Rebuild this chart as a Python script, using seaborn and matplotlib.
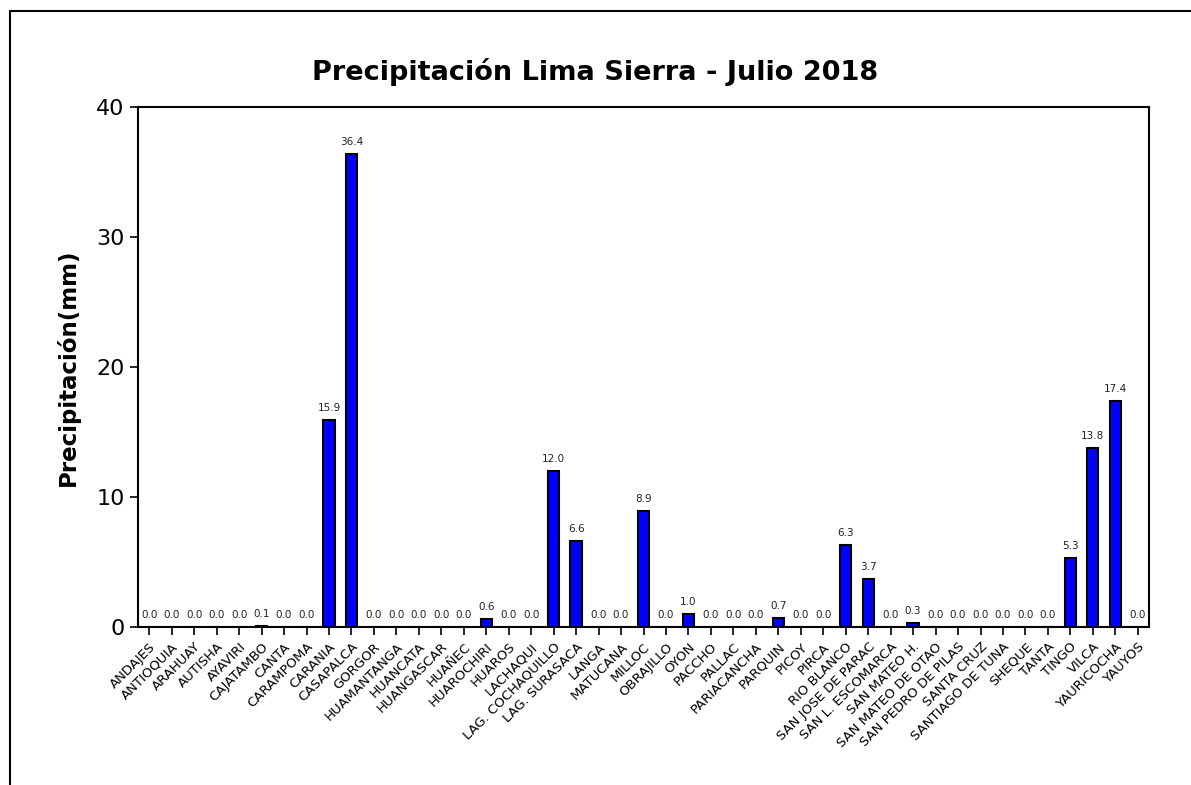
import pandas as pd
import seaborn as sns
import matplotlib.pyplot as plt
from matplotlib.lines import Line2D

# station names and July 2018 precipitation (mm)
estaciones = ['ANDAJES', 'ANTIOQUIA', 'ARAHUAY', 'AUTISHA', 'AYAVIRI', 'CAJATAMBO',
              'CANTA', 'CARAMPOMA', 'CARANIA', 'CASAPALCA', 'GORGOR', 'HUAMANTANGA',
              'HUANCATA', 'HUANGASCAR', 'HUAÑEC', 'HUAROCHIRI', 'HUAROS', 'LACHAQUI',
              'LAG. COCHAQUILLO', 'LAG. SURASACA', 'LANGA', 'MATUCANA', 'MILLOC',
              'OBRAJILLO', 'OYON', 'PACCHO', 'PALLAC', 'PARIACANCHA', 'PARQUIN',
              'PICOY', 'PIRCA', 'RIO BLANCO', 'SAN JOSE DE PARAC', 'SAN L. ESCOMARCA',
              'SAN MATEO H.', 'SAN MATEO DE OTAO', 'SAN PEDRO DE PILAS', 'SANTA CRUZ',
              'SANTIAGO DE TUNA', 'SHEQUE', 'TANTA', 'TINGO', 'VILCA', 'YAURICOCHA',
              'YAUYOS']
precip = [0.0, 0.0, 0.0, 0.0, 0.0, 0.1,
          0.0, 0.0, 15.9, 36.4, 0.0, 0.0,
          0.0, 0.0, 0.0, 0.6, 0.0, 0.0,
          12.0, 6.6, 0.0, 0.0, 8.9,
          0.0, 1.0, 0.0, 0.0, 0.0, 0.7,
          0.0, 0.0, 6.3, 3.7, 0.0,
          0.3, 0.0, 0.0, 0.0,
          0.0, 0.0, 0.0, 5.3, 13.8, 17.4,
          0.0]

df = pd.DataFrame({'estacion': estaciones, 'pp': precip})

sns.set_style('ticks')
plt.rcParams['font.family'] = ['DejaVu Sans']
plt.rcParams['text.color'] = 'black'
plt.rcParams['axes.labelcolor'] = 'black'
plt.rcParams['xtick.color'] = 'black'
plt.rcParams['ytick.color'] = 'black'
plt.rcParams['axes.edgecolor'] = 'black'

fig = plt.figure(figsize=(11.91, 7.85), dpi=100)
ax = fig.add_axes([138/1191, 1 - 627/785, (1149-138)/1191, (627-107)/785])

sns.barplot(x='estacion', y='pp', data=df, color='#0000FF', edgecolor='black',
            linewidth=1.5, width=0.5, saturation=1, ax=ax)
ax.bar_label(ax.containers[0], fmt='%.1f', fontsize=7.5, padding=5, color='#222222')

ax.set_ylim(0, 40)
ax.set_yticks([0, 10, 20, 30, 40])
ax.set_xlim(-0.5, len(estaciones) - 0.5)
ax.tick_params(axis='y', labelsize=16, length=6, width=1.2)
ax.tick_params(axis='x', labelsize=9.5, length=6, width=1.2)
ax.set_xticks(range(len(estaciones)))
ax.set_xticklabels(estaciones, rotation=45, ha='right', rotation_mode='anchor')
for s in ax.spines.values():
    s.set_linewidth(1.5)
ax.set_xlabel('')
ax.set_ylabel('Precipitación(mm)', fontsize=16.5, fontweight='bold', labelpad=12)
fig.text(0.5, 1 - 72/785, 'Precipitación Lima Sierra - Julio 2018', ha='center',
         va='center', fontsize=19.5, fontweight='bold')

# outer frame (left and top edges only visible)
fig.add_artist(Line2D([10/1191, 10/1191], [0, 1 - 11/785], color='black', lw=1.5))
fig.add_artist(Line2D([10/1191, 1], [1 - 11/785, 1 - 11/785], color='black', lw=1.5))

plt.savefig('out.png', dpi=100)
